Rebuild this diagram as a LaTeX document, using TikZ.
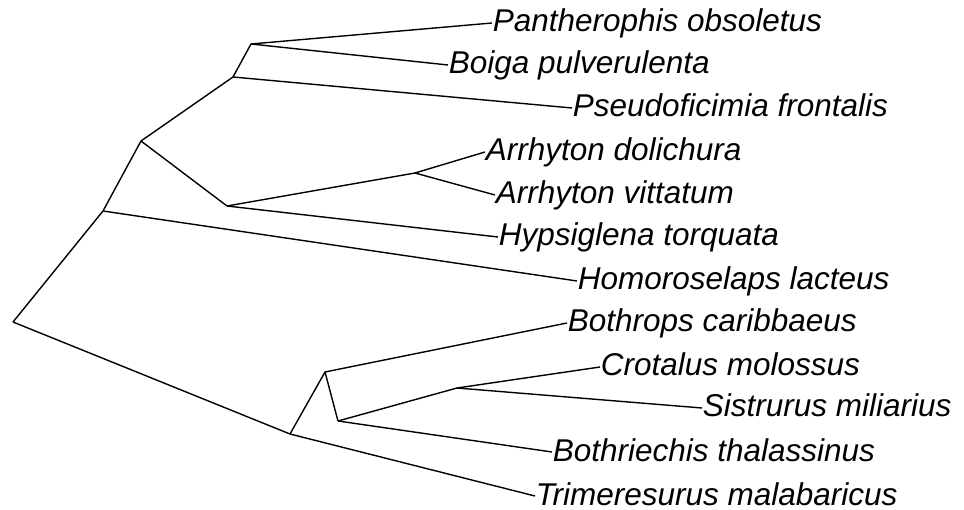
\documentclass[tikz,border=0pt]{standalone}
\usepackage{fontspec}
\setmainfont{Liberation Sans}
\begin{document}
\begin{tikzpicture}[x=1pt,y=-1pt,
  br/.style={line width=1.4pt,line join=miter},
  lab/.style={anchor=base west,inner sep=0.6pt,yshift=-9pt,font=\fontsize{31.5}{37}\selectfont\itshape}]
\useasboundingbox (0,0) rectangle (964,510);
% internal nodes
\coordinate (root) at (13,322);
\coordinate (A) at (103,211);
\coordinate (B) at (141,141);
\coordinate (C) at (233,77);
\coordinate (D) at (251,44);
\coordinate (E) at (227,206);
\coordinate (F) at (415,173);
\coordinate (G) at (290,434);
\coordinate (H) at (325,372);
\coordinate (I) at (338,421);
\coordinate (J) at (457,388);
% leaf ends
\coordinate (l1) at (492,23);
\coordinate (l2) at (448,65);
\coordinate (l3) at (572,108);
\coordinate (l4) at (485,152);
\coordinate (l5) at (495,195);
\coordinate (l6) at (498,237);
\coordinate (l7) at (577,281);
\coordinate (l8) at (567,323);
\coordinate (l9) at (600,367);
\coordinate (l10) at (702,408);
\coordinate (l11) at (552,452);
\coordinate (l12) at (535,496);
% labels
\node[lab] (t1) at (l1) {Pantherophis obsoletus};
\node[lab] (t2) at (l2) {Boiga pulverulenta};
\node[lab] (t3) at (l3) {Pseudoficimia frontalis};
\node[lab] (t4) at (l4) {Arrhyton dolichura};
\node[lab] (t5) at (l5) {Arrhyton vittatum};
\node[lab] (t6) at (l6) {Hypsiglena torquata};
\node[lab] (t7) at (l7) {Homoroselaps lacteus};
\node[lab] (t8) at (l8) {Bothrops caribbaeus};
\node[lab] (t9) at (l9) {Crotalus molossus};
\node[lab] (t10) at (l10) {Sistrurus miliarius};
\node[lab] (t11) at (l11) {Bothriechis thalassinus};
\node[lab] (t12) at (l12) {Trimeresurus malabaricus};
% branches
\draw[br] (root) -- (A);
\draw[br] (root) -- (G);
\draw[br] (A) -- (B);
\draw[br] (A) -- (l7);
\draw[br] (B) -- (C);
\draw[br] (B) -- (E);
\draw[br] (C) -- (D);
\draw[br] (C) -- (l3);
\draw[br] (D) -- (l1);
\draw[br] (D) -- (l2);
\draw[br] (E) -- (F);
\draw[br] (E) -- (l6);
\draw[br] (F) -- (l4);
\draw[br] (F) -- (l5);
\draw[br] (G) -- (H);
\draw[br] (G) -- (l12);
\draw[br] (H) -- (l8);
\draw[br] (H) -- (I);
\draw[br] (I) -- (J);
\draw[br] (I) -- (l11);
\draw[br] (J) -- (l9);
\draw[br] (J) -- (l10);
\end{tikzpicture}
\end{document}
